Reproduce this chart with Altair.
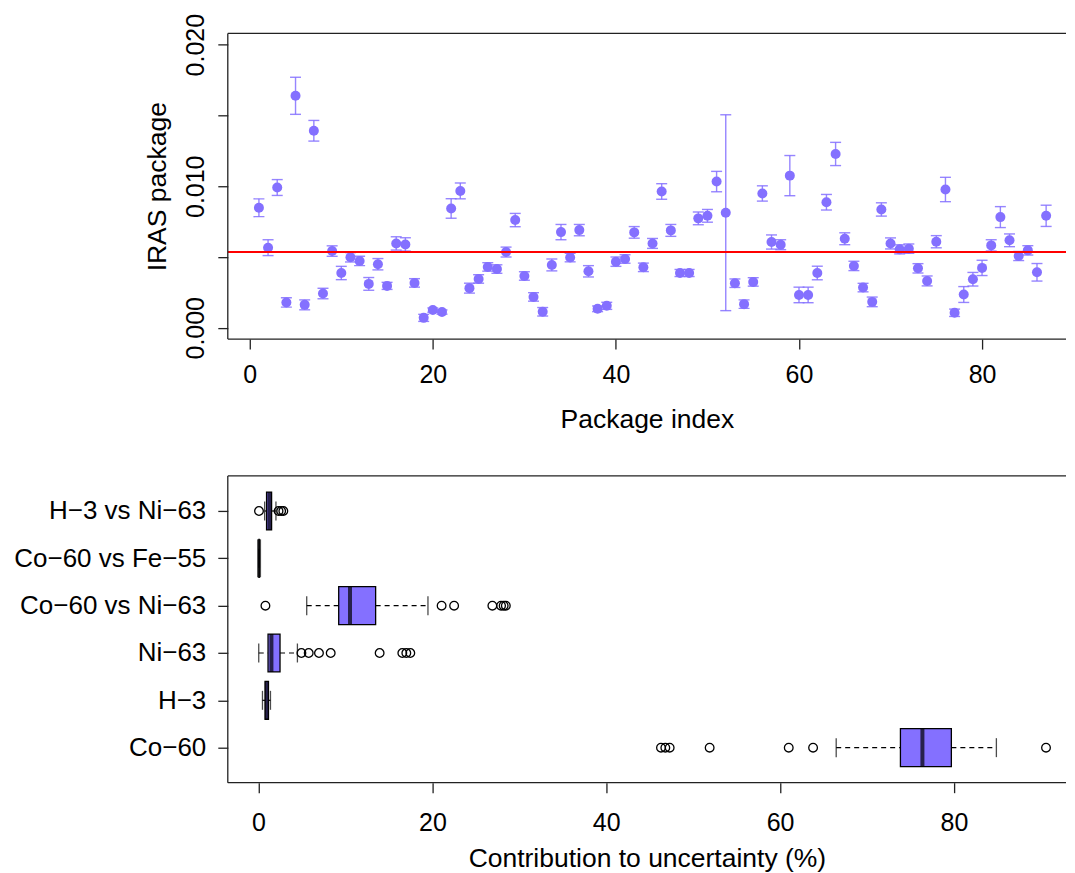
import altair as alt
import pandas as pd

FONT = "Liberation Sans"
PURPLE = "#8470FF"
FRAME = "#222222"

# ---------------- top panel data ----------------
package_index = list(range(1, 88))
iras = [0.00848, 0.00566, 0.00991, 0.00179, 0.01639, 0.00162, 0.01392, 0.00242, 0.00542, 0.00387,
        0.00498, 0.00472, 0.00310, 0.00449, 0.00296, 0.00596, 0.00589, 0.00317, 0.00070, 0.00125,
        0.00111, 0.00843, 0.00967, 0.00280, 0.00345, 0.00430, 0.00415, 0.00535, 0.00761, 0.00366,
        0.00218, 0.00113, 0.00444, 0.00676, 0.00496, 0.00690, 0.00399, 0.00134, 0.00155, 0.00467,
        0.00486, 0.00674, 0.00427, 0.00596, 0.00963, 0.00688, 0.00387, 0.00387, 0.00773, 0.00791,
        0.01033, 0.00813, 0.00315, 0.00167, 0.00324, 0.00949, 0.00606, 0.00587, 0.01075, 0.00232,
        0.00232, 0.00387, 0.00887, 0.01228, 0.00629, 0.00437, 0.00284, 0.00183, 0.00836, 0.00596,
        0.00554, 0.00559, 0.00420, 0.00331, 0.00608, 0.00977, 0.00106, 0.00235, 0.00343, 0.00423,
        0.00582, 0.00782, 0.00618, 0.00507, 0.00547, 0.00392, 0.00791]
iras_err = [0.00063, 0.00056, 0.00056, 0.00033, 0.00131, 0.00035, 0.00073, 0.00037, 0.00037, 0.00047,
            0.00033, 0.00033, 0.00045, 0.00040, 0.00025, 0.00047, 0.00047, 0.00030, 0.00025, 0.00015,
            0.00015, 0.00069, 0.00056, 0.00035, 0.00030, 0.00030, 0.00030, 0.00035, 0.00047, 0.00030,
            0.00030, 0.00030, 0.00042, 0.00054, 0.00030, 0.00040, 0.00040, 0.00020, 0.00025, 0.00033,
            0.00030, 0.00041, 0.00030, 0.00035, 0.00055, 0.00042, 0.00025, 0.00025, 0.00045, 0.00045,
            0.00072, 0.00692, 0.00030, 0.00030, 0.00030, 0.00054, 0.00050, 0.00035, 0.00142, 0.00055,
            0.00055, 0.00048, 0.00055, 0.00082, 0.00042, 0.00033, 0.00030, 0.00034, 0.00047, 0.00039,
            0.00032, 0.00033, 0.00033, 0.00035, 0.00043, 0.00086, 0.00026, 0.00056, 0.00048, 0.00054,
            0.00040, 0.00074, 0.00045, 0.00032, 0.00033, 0.00062, 0.00075]
iras_mean = [0.00535]
top_x_ticks = [0, 20, 40, 60, 80]
top_y_ticks = [0.0, 0.005, 0.010, 0.015, 0.020]

# ---------------- bottom panel data ----------------
categories = ["H−3 vs Ni−63", "Co−60 vs Fe−55", "Co−60 vs Ni−63", "Ni−63", "H−3", "Co−60"]
positions = [6, 5, 4, 3, 2, 1]
whisker_lo = [0.70, 0.02, 5.54, 0.02, 0.45, 66.46]
q1 = [0.92, 0.04, 9.22, 1.09, 0.75, 73.85]
median = [1.25, 0.06, 10.52, 1.48, 0.94, 76.38]
q3 = [1.50, 0.08, 13.47, 2.47, 1.14, 79.71]
whisker_hi = [2.00, 0.10, 19.49, 4.47, 1.37, 84.89]
outliers = {
    "H−3 vs Ni−63": [0.05, 2.30, 2.60, 2.85],
    "Co−60 vs Fe−55": [],
    "Co−60 vs Ni−63": [0.79, 21.06, 22.50, 26.90, 27.90, 28.20, 28.45],
    "Ni−63": [4.93, 5.77, 6.95, 8.30, 13.93, 16.54, 17.00, 17.46],
    "H−3": [],
    "Co−60": [46.3, 46.8, 47.3, 51.9, 61.0, 63.8, 90.6],
}
bottom_x_ticks = [0, 20, 40, 60, 80]

# ---------------- tables ----------------
top_df = pd.DataFrame({"idx": package_index, "v": iras, "e": iras_err})
top_df["lo"] = top_df["v"] - top_df["e"]
top_df["hi"] = top_df["v"] + top_df["e"]
mean_df = pd.DataFrame({"m": iras_mean})

box_df = pd.DataFrame({"cat": categories, "pos": positions, "wlo": whisker_lo, "q1": q1,
                       "med": median, "q3": q3, "whi": whisker_hi})
box_df["bot"] = box_df["pos"] - 0.4
box_df["top"] = box_df["pos"] + 0.4
out_rows = []
for c, p in zip(categories, positions):
    for v in outliers[c]:
        out_rows.append({"cat": c, "pos": p, "val": v})
out_df = pd.DataFrame(out_rows)

W = 839
H_TOP = 306
H_BOT = 307


def frame(h):
    """Open-right plot frame (the reference's right border lies off the page)."""
    one = pd.DataFrame({"k": [0]})
    t = alt.Chart(one).mark_rule(color=FRAME, strokeWidth=1.3).encode(
        x=alt.value(0), x2=alt.value(W), y=alt.value(0))
    b = alt.Chart(one).mark_rule(color=FRAME, strokeWidth=1.3).encode(
        x=alt.value(0), x2=alt.value(W), y=alt.value(h))
    l = alt.Chart(one).mark_rule(color=FRAME, strokeWidth=1.3).encode(
        x=alt.value(0), y=alt.value(0), y2=alt.value(h))
    return [t, b, l]


# ---------------- top panel ----------------
xsc_top = alt.Scale(domain=[-2.40, 89.17], nice=False, zero=False)
ysc_top = alt.Scale(domain=[-0.0008, 0.0208], nice=False, zero=False)

x_top_axis = alt.Axis(values=top_x_ticks, format="d", title="Package index",
                      labelPadding=13, titlePadding=19)
y_top_axis = alt.Axis(values=top_y_ticks, format=".3f", title="IRAS package",
                      labelExpr="(round(datum.value*1000) % 10 == 0) ? datum.label : ''",
                      labelAngle=-90, labelAlign="center", labelBaseline="alphabetic",
                      labelPadding=14, titlePadding=12)

base_top = alt.Chart(top_df)
err = base_top.mark_rule(color=PURPLE, strokeWidth=1.4, opacity=0.85).encode(
    x=alt.X("idx:Q", scale=xsc_top, axis=x_top_axis),
    y=alt.Y("lo:Q", scale=ysc_top, axis=y_top_axis),
    y2="hi:Q",
)
caps = base_top.transform_fold(["lo", "hi"], as_=["k", "cv"]).mark_tick(
    orient="horizontal", size=11, thickness=1.4, color=PURPLE, opacity=0.85
).encode(
    x=alt.X("idx:Q", scale=xsc_top),
    y=alt.Y("cv:Q", scale=ysc_top),
)
pts = base_top.mark_circle(size=100, color=PURPLE, opacity=1).encode(
    x=alt.X("idx:Q", scale=xsc_top),
    y=alt.Y("v:Q", scale=ysc_top),
)
mean_line = alt.Chart(mean_df).mark_rule(color="#FF0000", strokeWidth=2).encode(
    y=alt.Y("m:Q", scale=ysc_top)
)
top = alt.layer(err, caps, pts, mean_line, *frame(H_TOP)).properties(width=W, height=H_TOP)

# ---------------- bottom panel ----------------
xsc_bot = alt.Scale(domain=[-3.54, 92.90], nice=False, zero=False)
ysc_bot = alt.Scale(domain=[0.26, 6.74], nice=False, zero=False)
names_by_pos = [""] * 7
for c, p in zip(categories, positions):
    names_by_pos[p] = c
label_lookup = "[" + ",".join("'" + n + "'" for n in names_by_pos) + "][datum.value]"

x_bot_axis = alt.Axis(values=bottom_x_ticks, format="d", title="Contribution to uncertainty (%)",
                      labelPadding=18, titlePadding=10)
y_bot_axis = alt.Axis(values=positions, labelExpr=label_lookup, title=None, labelPadding=12,
                      labelLimit=0, labelFontSize=26)

base_bot = alt.Chart(box_df)
wl = base_bot.mark_rule(color="black", strokeWidth=1.2, strokeDash=[5, 4]).encode(
    x=alt.X("wlo:Q", scale=xsc_bot, axis=x_bot_axis),
    x2="q1:Q",
    y=alt.Y("pos:Q", scale=ysc_bot, axis=y_bot_axis),
)
wh = base_bot.mark_rule(color="black", strokeWidth=1.2, strokeDash=[5, 4]).encode(
    x=alt.X("q3:Q", scale=xsc_bot), x2="whi:Q",
    y=alt.Y("pos:Q", scale=ysc_bot),
)
staples = base_bot.transform_fold(["wlo", "whi"], as_=["k", "sv"]).mark_tick(
    orient="vertical", size=19, thickness=1.3, color="black"
).encode(
    x=alt.X("sv:Q", scale=xsc_bot),
    y=alt.Y("pos:Q", scale=ysc_bot),
)
boxes = base_bot.mark_rect(fill=PURPLE, stroke="black", strokeWidth=1.3).encode(
    x=alt.X("q1:Q", scale=xsc_bot), x2="q3:Q",
    y=alt.Y("bot:Q", scale=ysc_bot), y2="top:Q",
)
meds = base_bot.mark_tick(orient="vertical", size=38, thickness=4, color="black").encode(
    x=alt.X("med:Q", scale=xsc_bot),
    y=alt.Y("pos:Q", scale=ysc_bot),
)
outs = alt.Chart(out_df).mark_point(shape="circle", filled=False, size=75, color="black",
                                    strokeWidth=1.3, opacity=1).encode(
    x=alt.X("val:Q", scale=xsc_bot),
    y=alt.Y("pos:Q", scale=ysc_bot),
)
bottom = alt.layer(wl, wh, staples, boxes, meds, outs, *frame(H_BOT)).properties(
    width=W, height=H_BOT)

chart = alt.vconcat(top, bottom, spacing=137, bounds="flush").properties(
    padding={"left": 5, "top": 5, "right": 0, "bottom": 5}
).configure(
    font=FONT,
).configure_view(
    strokeWidth=0
).configure_axis(
    grid=False, domain=False, ticks=True, tickSize=10, tickWidth=1.3, tickColor=FRAME,
    labelFont=FONT, labelFontSize=25, labelColor="black",
    titleFont=FONT, titleFontSize=26.5, titleFontWeight="normal", titleColor="black",
)

chart.save("out.html", embed_options={"renderer": "svg", "actions": False})
